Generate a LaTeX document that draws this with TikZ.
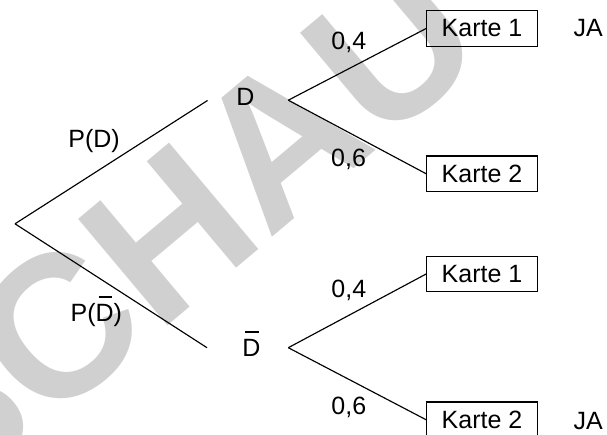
\documentclass[tikz,border=0pt]{standalone}
\usepackage{fontspec}
\setmainfont{Liberation Sans}
\definecolor{wm}{RGB}{208,208,208}
% D with a short bar over it (complement event)
\newcommand{\Dbar}{\leavevmode\rlap{\hspace{0.12em}\rule[0.95em]{0.53em}{0.05em}}D}
\begin{document}
\begin{tikzpicture}[x=1pt,y=-1pt,
  every node/.style={font=\fontsize{25}{29}\selectfont, inner sep=0pt},
  branch/.style={line width=1.15pt},
  card/.style={draw, line width=1.15pt, minimum width=110.6pt, minimum height=35.5pt},
  lbl/.style={anchor=base west}]
\useasboundingbox (0,0) rectangle (607,434);

% background stamp
\begin{scope}
  \clip (0,0) rectangle (607,434);
  \node[anchor=base west, rotate=40, text=wm,
        font=\fontsize{202}{202}\selectfont\bfseries] (stamp) at (-58,515) {SCHAU};
\end{scope}

% branching points
\coordinate (root) at (15,223.8);
\coordinate (Din)  at (207.5,100.5);
\coordinate (Dout) at (288.3,100.2);
\coordinate (Nin)  at (207,347.7);
\coordinate (Nout) at (288.3,347.7);

% first stage
\node[lbl] (D) at (236.2,105) {D};
\node[lbl] (N) at (242.2,356.3) {\Dbar};
\node[lbl] (pD) at (68.2,147) {P(D)};
\node[lbl] (pN) at (70.4,321.3) {P(\Dbar)};

% second stage
\node[card] (k1) at (482,28.5)   {Karte 1};
\node[card] (k2) at (482,173.75) {Karte 2};
\node[card] (k3) at (482,274)    {Karte 1};
\node[card] (k4) at (482,419.75) {Karte 2};

\node[lbl] (p1) at (331.2,49.5)  {0,4};
\node[lbl] (p2) at (331.0,166.5) {0,6};
\node[lbl] (p3) at (331.2,297)   {0,4};
\node[lbl] (p4) at (331.2,414.3) {0,6};

\node[lbl] (ja1) at (573.4,36.7)  {JA};
\node[lbl] (ja2) at (573.4,429.3) {JA};

% connectors
\draw[branch] (root) -- (Din);
\draw[branch] (root) -- (Nin);
\draw[branch] (Dout) -- (k1.west);
\draw[branch] (Dout) -- (k2.west);
\draw[branch] (Nout) -- (k3.west);
\draw[branch] (Nout) -- (k4.west);
\end{tikzpicture}
\end{document}
